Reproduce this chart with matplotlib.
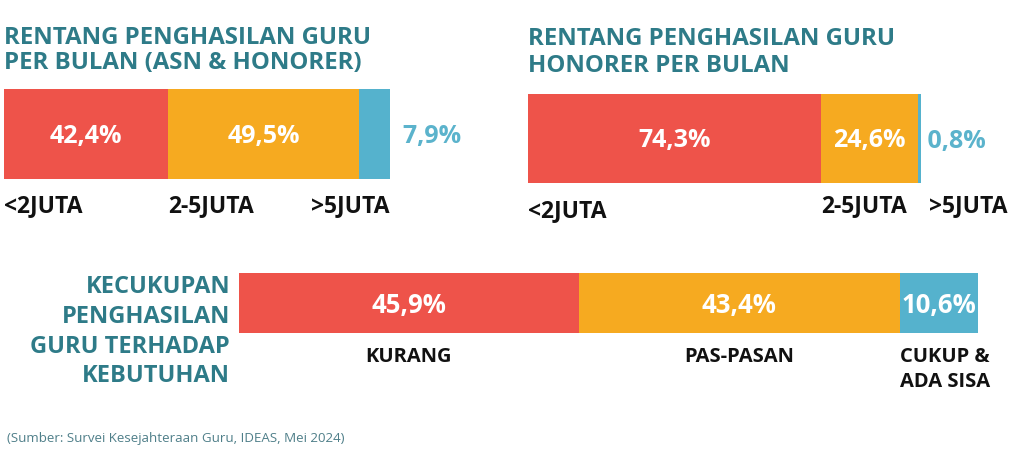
import matplotlib
matplotlib.use("Agg")
import matplotlib.pyplot as plt
from matplotlib.transforms import blended_transform_factory

# ---------------- data ----------------
income_all_labels = ["<2JUTA", "2-5JUTA", ">5JUTA"]
income_all_values = [42.4, 49.5, 7.9]

income_honorer_labels = ["<2JUTA", "2-5JUTA", ">5JUTA"]
income_honorer_values = [74.3, 24.6, 0.8]

adequacy_labels = ["KURANG", "PAS-PASAN", "CUKUP &\nADA SISA"]
adequacy_values = [45.9, 43.4, 10.6]

title1 = "RENTANG PENGHASILAN GURU\nPER BULAN (ASN & HONORER)"
title2 = "RENTANG PENGHASILAN GURU\nHONORER PER BULAN"
title3 = "KECUKUPAN\nPENGHASILAN\nGURU TERHADAP\nKEBUTUHAN"
source = "(Sumber: Survei Kesejahteraan Guru, IDEAS, Mei 2024)"

# ---------------- style ----------------
COLORS = ["#EE534A", "#F6AA20", "#55B2CD"]
TEAL = "#2E7B88"
OUT_BLUE = "#5BB3CC"
FONT = ["Open Sans", "DejaVu Sans"]
plt.rcParams["font.family"] = FONT

W, H = 1009, 463
fig = plt.figure(figsize=(W / 100, H / 100), dpi=100)
fig.patch.set_facecolor("white")


def fy(y):
    return 1 - y / H


def fx(x):
    return x / W


def make_ax(left, right, top, bottom):
    ax = fig.add_axes([fx(left), fy(bottom), (right - left) / W, (bottom - top) / H])
    ax.set_axis_off()
    return ax


def fmt(v):
    return f"{v:.1f}".replace(".", ",") + "%"


def draw_bar(ax, values):
    lefts = []
    acc = 0
    for v, c in zip(values, COLORS):
        ax.barh(0, v, left=acc, height=1, color=c, edgecolor="none")
        lefts.append(acc)
        acc += v
    ax.set_xlim(0, acc)
    ax.set_ylim(-0.5, 0.5)
    return lefts, acc


TITLE_FS = 17.3
PCT_FS = 18
CAT_FS = 16.5

# ---------------- chart 1 ----------------
ax1 = make_ax(4, 390, 89, 179)
lefts1, tot1 = draw_bar(ax1, income_all_values)
tr1 = blended_transform_factory(ax1.transData, fig.transFigure)
for i, v in enumerate(income_all_values[:2]):
    ax1.text(lefts1[i] + v / 2, fy(143), fmt(v), transform=tr1, ha="center",
             va="baseline", color="white", fontsize=PCT_FS, fontweight="bold")
ax1.text(tot1, fy(143), "  " + fmt(income_all_values[2]), transform=tr1,
         ha="left", va="baseline", color=OUT_BLUE, fontsize=PCT_FS, fontweight="bold")
ax1.text(0, fy(212), income_all_labels[0], transform=tr1, ha="left", va="baseline",
         color="#111111", fontsize=CAT_FS, fontweight="bold")
ax1.text(lefts1[1], fy(212), income_all_labels[1], transform=tr1, ha="left",
         va="baseline", color="#111111", fontsize=CAT_FS, fontweight="bold")
ax1.text(tot1, fy(212), income_all_labels[2], transform=tr1, ha="right",
         va="baseline", color="#111111", fontsize=CAT_FS, fontweight="bold")
fig.text(fx(4), fy(44), title1.split("\n")[0], ha="left", va="baseline",
         color=TEAL, fontsize=TITLE_FS, fontweight="bold")
fig.text(fx(4), fy(69), title1.split("\n")[1], ha="left", va="baseline",
         color=TEAL, fontsize=TITLE_FS, fontweight="bold")

# ---------------- chart 2 ----------------
ax2 = make_ax(528, 921, 94, 183)
lefts2, tot2 = draw_bar(ax2, income_honorer_values)
tr2 = blended_transform_factory(ax2.transData, fig.transFigure)
for i, v in enumerate(income_honorer_values[:2]):
    ax2.text(lefts2[i] + v / 2, fy(147), fmt(v), transform=tr2, ha="center",
             va="baseline", color="white", fontsize=PCT_FS, fontweight="bold")
ax2.text(tot2, fy(148), " " + fmt(income_honorer_values[2]), transform=tr2,
         ha="left", va="baseline", color=OUT_BLUE, fontsize=PCT_FS, fontweight="bold")
ax2.text(0, fy(217), income_honorer_labels[0], transform=tr2, ha="left",
         va="baseline", color="#111111", fontsize=CAT_FS, fontweight="bold")
ax2.text(lefts2[1], fy(212), income_honorer_labels[1], transform=tr2, ha="left",
         va="baseline", color="#111111", fontsize=CAT_FS, fontweight="bold")
fig.text(fx(1007), fy(212), income_honorer_labels[2], ha="right", va="baseline",
         color="#111111", fontsize=CAT_FS, fontweight="bold")
fig.text(fx(528), fy(45), title2.split("\n")[0], ha="left", va="baseline",
         color=TEAL, fontsize=TITLE_FS, fontweight="bold")
fig.text(fx(528), fy(72), title2.split("\n")[1], ha="left", va="baseline",
         color=TEAL, fontsize=TITLE_FS, fontweight="bold")

# ---------------- chart 3 ----------------
ax3 = make_ax(239, 978, 273, 333)
lefts3, tot3 = draw_bar(ax3, adequacy_values)
tr3 = blended_transform_factory(ax3.transData, fig.transFigure)
for i, v in enumerate(adequacy_values):
    ax3.text(lefts3[i] + v / 2, fy(313), fmt(v), transform=tr3, ha="center",
             va="baseline", color="white", fontsize=18.5, fontweight="bold")
ax3.text(lefts3[0] + adequacy_values[0] / 2, fy(362), adequacy_labels[0],
         transform=tr3, ha="center", va="baseline", color="#111111",
         fontsize=14.5, fontweight="bold")
ax3.text(lefts3[1] + adequacy_values[1] / 2, fy(362), adequacy_labels[1],
         transform=tr3, ha="center", va="baseline", color="#111111",
         fontsize=14.5, fontweight="bold")
l3a, l3b = adequacy_labels[2].split("\n")
ax3.text(lefts3[2], fy(362), l3a, transform=tr3, ha="left", va="baseline",
         color="#111111", fontsize=14.5, fontweight="bold")
ax3.text(lefts3[2], fy(387), l3b, transform=tr3, ha="left", va="baseline",
         color="#111111", fontsize=14.5, fontweight="bold")
for line, yb in zip(title3.split("\n"), [293, 323, 353, 382]):
    fig.text(fx(230), fy(yb), line, ha="right", va="baseline", color=TEAL,
             fontsize=17, fontweight="bold")

fig.text(fx(7), fy(442), source, ha="left", va="baseline", color="#4F7F89",
         fontsize=9.6)

fig.savefig("out.png", dpi=100, facecolor="white")
